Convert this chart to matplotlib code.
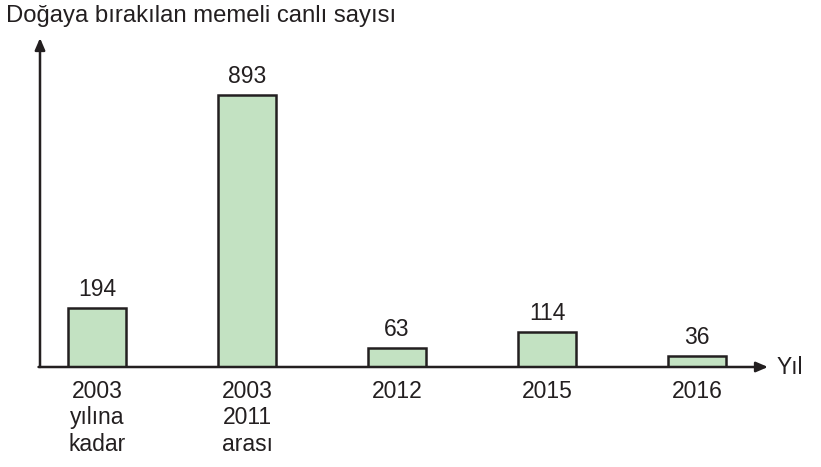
import matplotlib
matplotlib.use("Agg")
from matplotlib import pyplot as plt

plt.rcParams['font.family'] = ['Liberation Sans', 'DejaVu Sans']

categories = ["2003\nyılına\nkadar", "2003\n2011\narası", "2012", "2015", "2016"]
values = [194, 893, 63, 114, 36]
ylabel_text = "Doğaya bırakılan memeli canlı sayısı"
xlabel_text = "Yıl"

W, H = 821, 467
fig = plt.figure(figsize=(W / 100, H / 100), dpi=100)
# axes placed in pixel terms: origin at (40, 367), arrow tips at x=768 and y=38
ax = fig.add_axes([40 / W, (H - 367) / H, 728 / W, 329 / H])

xs = list(range(len(values)))
ax.bar(xs, values, width=0.39, color="#c3e2c2", edgecolor="#231f20", linewidth=1.8, zorder=2)

for x, v in zip(xs, values):
    ax.annotate(str(v), (x, v), xytext=(0, 5), textcoords="offset points",
                ha="center", va="bottom", fontsize=16.5, color="#231f20")

ax.set_xlim(-0.38, 4.473)
ax.set_ylim(0, 1080)
for s in ax.spines.values():
    s.set_visible(False)
ax.set_yticks([])
ax.set_xticks(xs)
ax.set_xticklabels(categories, fontsize=16.5, color="#231f20", linespacing=1.2)
ax.tick_params(axis="x", length=0, pad=9)

# axis arrows
arrow = dict(arrowstyle="-|>,head_length=0.7,head_width=0.3", color="#231f20", lw=1.8,
             shrinkA=0, shrinkB=0)
ax.annotate("", xy=(0, 1), xytext=(0, 0), xycoords="axes fraction", arrowprops=arrow,
            annotation_clip=False)
ax.annotate("", xy=(1, 0), xytext=(-0.002, 0), xycoords="axes fraction", arrowprops=arrow,
            annotation_clip=False)

fig.text(6 / W, 1 - 16 / H, ylabel_text, fontsize=17.2, color="#231f20", ha="left", va="center")
fig.text(777 / W, 1 - 367 / H, xlabel_text, fontsize=16.5, color="#231f20", ha="left", va="center")

fig.savefig("out.png", dpi=100)
